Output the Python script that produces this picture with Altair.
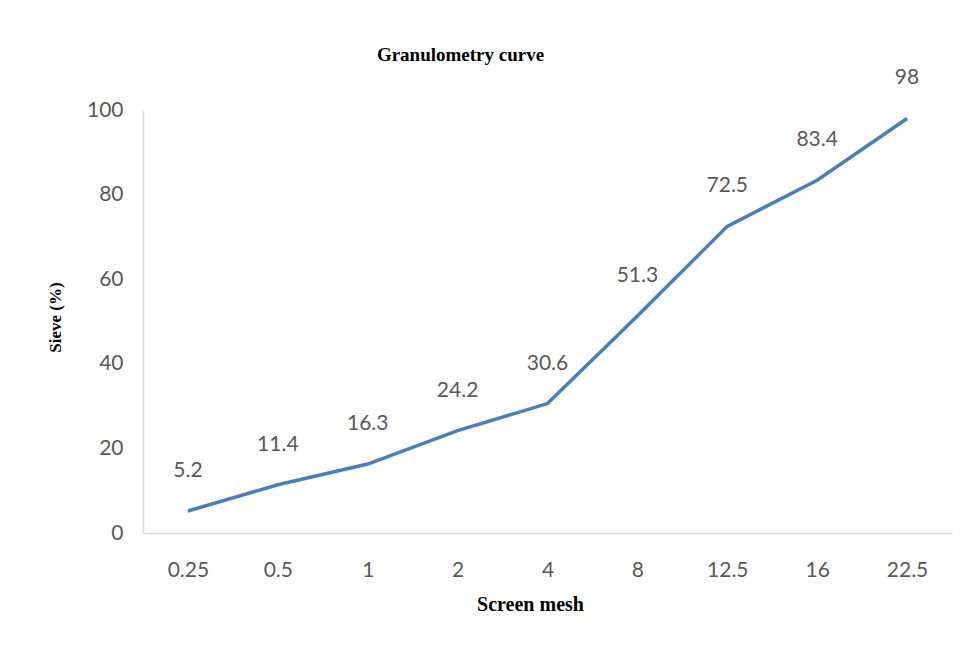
import altair as alt
import pandas as pd

mesh = ["0.25", "0.5", "1", "2", "4", "8", "12.5", "16", "22.5"]
sieve = [5.2, 11.4, 16.3, 24.2, 30.6, 51.3, 72.5, 83.4, 98]
labels = ["5.2", "11.4", "16.3", "24.2", "30.6", "51.3", "72.5", "83.4", "98"]

df = pd.DataFrame({"mesh": mesh, "sieve": sieve, "label": labels})

x = alt.X("mesh:N", sort=mesh, scale=alt.Scale(paddingInner=0, paddingOuter=0),
          axis=alt.Axis(title="Screen mesh", labelAngle=0, ticks=False, domainColor="#d9d9d9",
                        domainWidth=1.5, labelFont="Lato", labelFontSize=21, labelColor="#595959",
                        labelPadding=26, labelBaseline="top",
                        titleFont="Liberation Serif", titleFontSize=20, titleFontWeight="bold",
                        titleColor="#000000", titleX=387, titleY=71, titleBaseline="middle"))
y = alt.Y("sieve:Q", scale=alt.Scale(domain=[0, 100]),
          axis=alt.Axis(title="Sieve (%)", values=[0, 20, 40, 60, 80, 100], grid=False, ticks=False,
                        domainColor="#d9d9d9", domainWidth=1.5, labelFont="Lato", labelFontSize=21,
                        labelColor="#595959", labelPadding=20,
                        titleFont="Liberation Serif", titleFontSize=17, titleFontWeight="bold",
                        titleColor="#000000", titleX=-88, titleY=207, titleAngle=-90,
                        titleBaseline="middle", titleAlign="center"))

base = alt.Chart(df)
line = base.mark_line(color="#4a7ebb", strokeWidth=3.5).encode(x=x, y=y)
text = base.mark_text(font="Lato", fontSize=21, color="#595959", dy=-40, baseline="middle").encode(
    x=alt.X("mesh:N", sort=mesh), y="sieve:Q", text="label:N")

chart = (line + text).properties(
    width=809, height=423,
    title=alt.TitleParams("Granulometry curve", font="Liberation Serif", fontSize=19,
                          fontWeight="bold", color="#000000", anchor="middle", dx=-87, offset=2),
    padding={"left": 135, "top": 102, "right": 12, "bottom": 120},
    autosize=alt.AutoSizeParams(type="none"),
).configure(background="white").configure_view(stroke=None, strokeWidth=0)

chart.save("out.html", embed_options={"renderer": "svg", "actions": False})
